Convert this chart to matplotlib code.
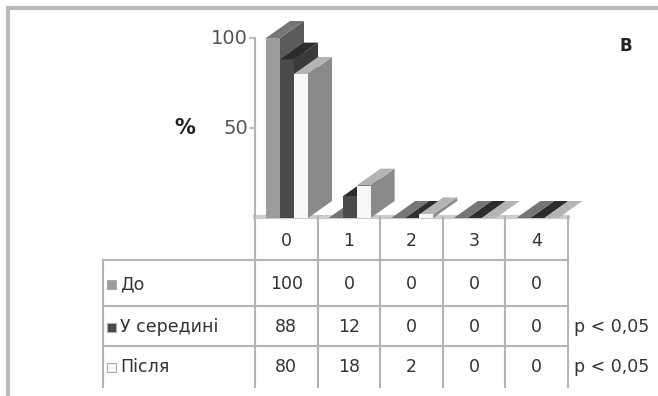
import matplotlib.pyplot as plt
from matplotlib.patches import Polygon, Rectangle

plt.rcParams['font.family'] = ['DejaVu Sans']

categories = ['0', '1', '2', '3', '4']
series_names = ['До', 'У середині', 'Після']
values = {
    'До': [100, 0, 0, 0, 0],
    'У середині': [88, 12, 0, 0, 0],
    'Після': [80, 18, 2, 0, 0],
}
p_labels = ['', 'p < 0,05', 'p < 0,05']
y_ticks = [50, 100]
panel_label = 'В'

# front, top, side colours for each series
colors = {
    'До': ('#9c9c9c', '#767676', '#5a5a5a'),
    'У середині': ('#4a4a4a', '#2c2c2c', '#3a3a3a'),
    'Після': ('#f7f7f7', '#b4b4b4', '#8a8a8a'),
}
grid_c = '#b4b4b4'
txt_c = '#333333'
fs = 12.5

W, H = 658, 396
fig = plt.figure(figsize=(W / 100, H / 100), dpi=100)

# overlay axes in pixel units for the table and frame
ov = fig.add_axes([0, 0, 1, 1])
ov.set_xlim(0, W)
ov.set_ylim(H, 0)
ov.axis('off')

# chart axes: column 0 starts at x=255 px, each column 62.6 px, 0% at y=218 px, 1.8 px per %
col_w = 62.6
x_left, x_right = 255, 255 + col_w * 5
y0, y_top = 218, 20
ax = fig.add_axes([x_left / W, 1 - y0 / H, (x_right - x_left) / W, (y0 - y_top) / H])
ax.set_xlim(-0.5, 4.5)
ax.set_ylim(0, (y0 - y_top) / 1.8)
ax.axis('off')

bar_w = 14 / col_w
start = 11 / col_w
dx = 24 / col_w
dy = 17 / 1.8

for i, cat in enumerate(categories):
    for j, name in enumerate(series_names):
        h = values[name][i]
        x0 = i - 0.5 + start + j * bar_w
        x1 = x0 + bar_w
        fc, tc, sc = colors[name]
        side = Polygon([(x1, 0), (x1 + dx, dy), (x1 + dx, h + dy), (x1, h)],
                       closed=True, fc=sc, ec='none', clip_on=False)
        top = Polygon([(x0, h), (x1, h), (x1 + dx, h + dy), (x0 + dx, h + dy)],
                      closed=True, fc=tc, ec='none', clip_on=False)
        ax.add_patch(side)
        ax.add_patch(top)
        if h > 0:
            ax.add_patch(Rectangle((x0, 0), bar_w, h, fc=fc, ec='none', clip_on=False))

# y axis
ax.plot([-0.5, -0.5], [0, 100], color=grid_c, lw=1.5, clip_on=False)
for t in y_ticks:
    ax.plot([-0.5 - 5 / col_w, -0.5], [t, t], color=grid_c, lw=1.2, clip_on=False)
    ax.text(-0.5 - 7 / col_w, t, str(t), ha='right', va='center', fontsize=14,
            color='#555555')
ax.text(-0.5 - 70 / col_w, 50, '%', ha='center', va='center', fontsize=15,
        fontweight='bold', color='#222222')

# frame
ov.plot([6, W], [8, 8], color='#bababa', lw=3, solid_capstyle='butt')
ov.plot([7.5, 7.5], [7, H], color='#bababa', lw=3, solid_capstyle='butt')

# table
col_x = [x_left + k * col_w for k in range(6)]
row_y = [217, 260, 306, 346, 387]
leg_x = 103
ov.plot([col_x[0], col_x[-1]], [row_y[0], row_y[0]], color='#cccccc', lw=3)
for x in col_x:
    ov.plot([x, x], [row_y[0], row_y[-1]], color=grid_c, lw=1.5)
ov.plot([leg_x, leg_x], [row_y[1], row_y[-1]], color=grid_c, lw=1.5)
for y in row_y[1:4]:
    ov.plot([leg_x, col_x[-1]], [y, y], color=grid_c, lw=1.5)

for k, cat in enumerate(categories):
    cx = (col_x[k] + col_x[k + 1]) / 2
    ov.text(cx, (row_y[0] + row_y[1]) / 2 + 2, cat, ha='center', va='center',
            fontsize=fs, color=txt_c)

for r, name in enumerate(series_names):
    cy = (row_y[r + 1] + row_y[r + 2]) / 2 + 1
    ov.add_patch(Rectangle((107, cy - 4.5), 9, 9, fc=colors[name][0],
                           ec='#aaaaaa', lw=0.8))
    ov.text(120, cy, name, ha='left', va='center', fontsize=fs, color=txt_c)
    for k, v in enumerate(values[name]):
        cx = (col_x[k] + col_x[k + 1]) / 2
        ov.text(cx, cy, str(v), ha='center', va='center', fontsize=fs, color=txt_c)
    if p_labels[r]:
        ov.text(574, cy, p_labels[r], ha='left', va='center', fontsize=fs,
                color=txt_c)

ov.text(626, 46, panel_label, ha='center', va='center', fontsize=12,
        fontweight='bold', color='#222222')

fig.savefig('out.png', dpi=100)
